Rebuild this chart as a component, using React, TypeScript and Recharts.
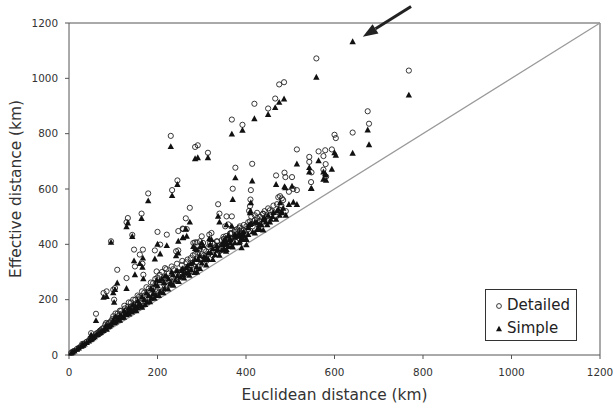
import React from 'react';
import { ScatterChart, Scatter, XAxis, YAxis, ReferenceLine } from 'recharts';

// Euclidean distance (km) for each origin/destination pair
const euclid = [
  641, 559, 475, 486, 466, 419, 450, 368, 392, 230, 285, 291, 314, 768, 675, 678, 641, 600, 603, 515,
  543, 543, 564, 579, 575, 594, 580, 376, 414, 468, 487, 489, 504, 548, 575, 473, 477, 481, 497, 507,
  515, 454, 439, 425, 432, 420, 409, 410, 409, 407, 411, 581, 547,
  245, 179, 233, 133, 130, 143, 95, 164, 370, 273, 264, 200, 221, 247, 258, 266, 337, 340, 356, 368, 257,
  147, 167, 160, 194, 206, 149, 168, 166, 109, 130, 78, 85, 104, 100, 102, 61, 50, 84, 242, 247,
  394, 386, 375, 364, 322, 317, 349, 356, 334, 300, 296, 289, 285, 303, 319, 281, 353, 360, 386, 368,
  390, 401, 401, 356, 198, 217, 258, 289,
  5, 8, 12, 18, 22, 28, 32, 35, 40, 45, 48, 52, 55, 58, 62, 65, 68, 72, 75, 78,
  82, 85, 88, 92, 95, 98, 100, 103, 106, 110, 112, 115, 118, 120, 124, 126, 130, 133, 136, 140,
  142, 146, 150, 152, 155, 158, 162, 165, 170, 172, 176, 180, 183, 186, 190, 193, 196, 200, 203, 206,
  210, 213, 216, 220, 224, 228, 232, 236, 240, 244, 248, 252, 256, 260, 264, 268, 272, 276, 280, 284,
  288, 292, 296, 300, 305, 310, 315, 320, 325, 330, 335, 340, 345, 350, 355, 360, 365, 370, 375, 380,
  385, 390, 395, 400, 405, 415, 420, 428, 435, 442, 448, 456, 462, 468, 476, 484, 490,
  105, 115, 125, 135, 145, 155, 165, 175, 185, 195, 205, 215, 225, 235, 245, 255, 265, 275, 285, 295,
  305, 315, 325, 335, 345, 355, 365, 375, 385, 395, 405, 412, 425, 438, 450, 460, 470, 480,
  30, 50, 70, 90, 140, 160, 190, 230, 270, 310, 350, 390, 430, 445,
];

// Effective distance, detailed network model
const detailed = [
  null, 1072, 978, 986, 927, 908, 891, 851, 832, 792, 752, 758, 731, 1028, 881, 836, 804, 796, 784, 743,
  716, 698, 736, 740, 719, 743, 690, 677, 691, 649, 659, 643, 643, 660, 670, 570, 574, 566, 590, 600,
  596, 523, 511, 514, 499, 487, 483, 562, 538, 521, 596, 645, 625,
  631, 584, 596, 495, 480, 434, 411, 511, 601, 532, 494, 445, 435, 448, 455, 455, 545, 511, 501, 501, 457,
  381, 381, 363, 378, 399, 320, 290, 330, 308, 278, 224, 230, 242, 236, 200, 149, 79, 116, 375, 378,
  435, 447, 451, 439, 441, 435, 427, 417, 411, 429, 411, 407, 407, 405, 405, 405, 465, 472, 465, 441,
  441, 465, 435, 420, 302, 314, 308, 308,
  8, 12, 15, 22, 26, 33, 38, 42, 48, 52, 60, 62, 65, 70, 78, 80, 84, 90, 95, 98,
  110, 100, 112, 118, 122, 130, 140, 128, 135, 150, 142, 135, 160, 150, 145, 168, 160, 175, 155, 190,
  170, 180, 200, 168, 185, 210, 190, 178, 225, 195, 205, 240, 200, 220, 260, 215, 230, 280, 225, 245,
  300, 235, 260, 310, 250, 270, 320, 265, 290, 330, 280, 300, 340, 290, 310, 345, 300, 325, 360, 310,
  335, 370, 325, 350, 380, 340, 365, 395, 360, 380, 410, 375, 395, 420, 390, 410, 440, 405, 425, 455,
  420, 440, 470, 435, 455, 465, 505, 470, 490, 520, 485, 505, 540, 500, 525, 560, 520,
  150, 160, 178, 190, 200, 215, 230, 245, 262, 275, 290, 280, 295, 310, 300, 325, 335, 350, 365, 380,
  360, 390, 405, 395, 415, 430, 420, 445, 460, 450, 480, 500, 495, 510, 530, 520, 545, 540,
  40, 62, 88, 115, 175, 205, 240, 280, 320, 375, 400, 455, 485, 500,
];

// Effective distance, simple model
const simple = [
  1132, 1004, 913, 925, 894, 854, 869, 798, 812, 753, 709, 713, 713, 939, 813, 760, 729, 731, 722, 690,
  677, 661, 702, 655, 661, 671, 650, 640, 629, 616, 608, 604, 610, 602, 635, 526, 550, 514, 544, 552,
  544, 480, 451, 453, 453, 441, 471, 520, 514, 471, 550, 631, 601,
  616, 557, 576, 477, 463, 428, 407, 493, 562, 480, 455, 400, 395, 411, 424, 429, 501, 480, 470, 465, 423,
  340, 350, 330, 347, 365, 290, 275, 317, 260, 240, 208, 211, 236, 225, 190, 124, 72, 105, 358, 368,
  417, 429, 435, 420, 417, 420, 411, 400, 395, 405, 390, 380, 385, 395, 398, 392, 417, 432, 411, 393,
  387, 417, 398, 381, 270, 285, 290, 300,
  7, 10, 14, 20, 25, 31, 35, 39, 45, 50, 55, 58, 62, 66, 72, 74, 78, 82, 86, 88,
  95, 93, 102, 105, 110, 115, 125, 116, 120, 130, 126, 125, 140, 134, 136, 150, 145, 155, 148, 165,
  155, 162, 175, 160, 170, 185, 178, 172, 200, 182, 190, 215, 192, 205, 235, 205, 215, 250, 215, 228,
  275, 225, 240, 285, 238, 255, 300, 252, 270, 305, 265, 282, 312, 278, 295, 322, 288, 308, 335, 298,
  318, 345, 312, 332, 355, 325, 345, 370, 345, 362, 385, 360, 378, 400, 375, 392, 415, 390, 405, 430,
  405, 420, 445, 420, 435, 445, 480, 455, 470, 495, 470, 490, 515, 490, 505, 530, 505,
  138, 142, 160, 170, 182, 195, 210, 225, 240, 255, 268, 262, 275, 290, 285, 305, 315, 330, 345, 358,
  345, 368, 385, 378, 398, 410, 405, 425, 440, 432, 460, 475, 478, 488, 505, 500, 520, 518,
  36, 57, 80, 104, 160, 185, 222, 262, 300, 352, 385, 435, 470, 480,
];

const ticks = [0, 200, 400, 600, 800, 1000, 1200];

const detailedPts = euclid
  .map((x, i) => ({ x, y: detailed[i] }))
  .filter((p) => p.y != null);
const simplePts = euclid
  .map((x, i) => ({ x, y: simple[i] }))
  .filter((p) => p.y != null);

const FONT = '"DejaVu Sans", Verdana, sans-serif';

const OpenCircle = (props: any) => (
  <circle cx={props.cx} cy={props.cy} r={2.6} fill="none" stroke="#222" strokeWidth={0.9} />
);

const Triangle = (props: any) => {
  const { cx, cy } = props;
  return (
    <polygon
      points={`${cx},${cy - 3.5} ${cx - 3.2},${cy + 2.4} ${cx + 3.2},${cy + 2.4}`}
      fill="#111"
    />
  );
};

const Arrow = (props: any) => {
  const { x1, y1, x2, y2 } = props;
  const ang = Math.atan2(y2 - y1, x2 - x1);
  const len = 15;
  const half = 5.5;
  const bx = x2 - len * Math.cos(ang);
  const by = y2 - len * Math.sin(ang);
  const px = -Math.sin(ang) * half;
  const py = Math.cos(ang) * half;
  return (
    <g>
      <line x1={x1} y1={y1} x2={bx} y2={by} stroke="#222" strokeWidth={3} />
      <polygon
        points={`${x2},${y2} ${bx + px},${by + py} ${bx - px},${by - py}`}
        fill="#222"
      />
    </g>
  );
};

const tickStyle = { fill: '#333', fontSize: 10.4, fontFamily: FONT };

export default function App() {
  return (
    <div style={{ position: 'absolute', left: 0, top: 0, width: 614, height: 410 }}>
      <ScatterChart width={614} height={410} margin={{ top: 23, right: 14, left: 0, bottom: 0 }}>
        <XAxis
          type="number"
          dataKey="x"
          domain={[0, 1200]}
          ticks={ticks}
          height={55}
          stroke="#555"
          tickSize={4}
          tickMargin={10}
          tick={tickStyle}
          interval={0}
          label={{
            value: 'Euclidean distance (km)',
            position: 'insideBottom',
            offset: 10,
            style: { fill: '#333', fontSize: 15.4, fontFamily: FONT },
          }}
        />
        <YAxis
          type="number"
          dataKey="y"
          domain={[0, 1200]}
          ticks={ticks}
          width={69}
          stroke="#555"
          tickSize={4}
          tickMargin={7}
          tick={tickStyle}
          interval={0}
          label={{
            value: 'Effective distance (km)',
            angle: -90,
            position: 'insideLeft',
            offset: 16,
            style: { fill: '#333', fontSize: 15.4, fontFamily: FONT, textAnchor: 'middle' },
          }}
        />
        <ReferenceLine y={1200} stroke="#555" />
        <ReferenceLine x={1200} stroke="#555" />
        <ReferenceLine
          segment={[{ x: 0, y: 0 }, { x: 1200, y: 1200 }]}
          stroke="#999"
          strokeWidth={1.2}
        />
        <Scatter name="Detailed" data={detailedPts} shape={OpenCircle} isAnimationActive={false} />
        <Scatter name="Simple" data={simplePts} shape={Triangle} isAnimationActive={false} />
        <ReferenceLine
          segment={[{ x: 773, y: 1260 }, { x: 664, y: 1150 }]}
          ifOverflow="visible"
          shape={Arrow}
        />
      </ScatterChart>
      <div
        style={{
          position: 'absolute',
          left: 485,
          top: 289,
          width: 92,
          height: 52,
          border: '1px solid #333',
          background: '#fff',
          fontFamily: FONT,
          fontSize: 15,
          color: '#222',
          boxSizing: 'border-box',
          padding: '4px 0 0 8px',
          lineHeight: '23px',
        }}
      >
        <div style={{ display: 'flex', alignItems: 'center' }}>
          <svg width={10} height={10} style={{ marginRight: 3 }}>
            <circle cx={5} cy={5} r={2.4} fill="none" stroke="#222" strokeWidth={0.9} />
          </svg>
          Detailed
        </div>
        <div style={{ display: 'flex', alignItems: 'center' }}>
          <svg width={10} height={10} style={{ marginRight: 3 }}>
            <polygon points="5,1.8 2,7.2 8,7.2" fill="#111" />
          </svg>
          Simple
        </div>
      </div>
    </div>
  );
}
